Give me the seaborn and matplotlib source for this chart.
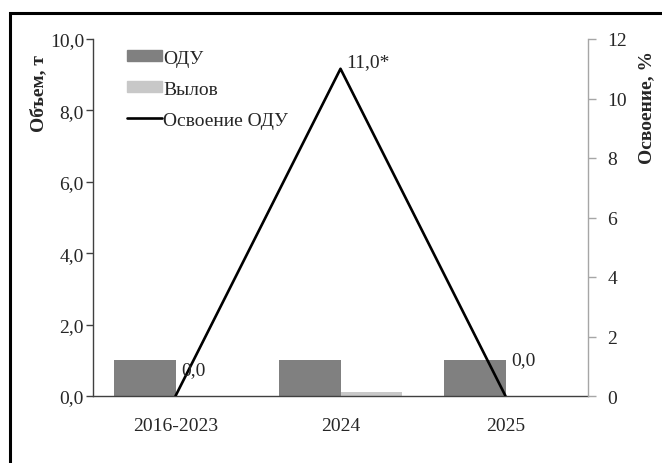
import numpy as np
import pandas as pd
import matplotlib
matplotlib.use('Agg')
import matplotlib.pyplot as plt
import matplotlib.patches as mpatches
from matplotlib.lines import Line2D
from matplotlib.ticker import FuncFormatter, FixedLocator
import seaborn as sns

# data
periods = ['2016-2023', '2024', '2025']
odu = [1.0, 1.0, 1.0]          # ОДУ, т
catch = [0.0, 0.11, 0.0]       # Вылов, т
osv = [0.0, 11.0, 0.0]         # Освоение ОДУ, %
osv_labels = ['0,0', '11,0*', '0,0']

sns.set_style('white')
plt.rcParams['font.family'] = ['Liberation Serif', 'DejaVu Serif']
plt.rcParams['font.size'] = 14

df = pd.DataFrame({
    'period': periods * 2,
    'value': odu + catch,
    'series': ['ОДУ'] * 3 + ['Вылов'] * 3,
})

fig = plt.figure(figsize=(6.62, 4.64), dpi=100)
ax = fig.add_axes([93 / 662, 1 - 397 / 464, 495 / 662, 357 / 464])

sns.barplot(data=df, x='period', y='value', hue='series',
            palette={'ОДУ': '#808080', 'Вылов': '#c8c8c8'},
            width=0.75, saturation=1, linewidth=0, legend=False, ax=ax)

ax.set_xlim(-0.5, 2.5)
ax.set_ylim(0, 10)
ax.set_yticks(np.arange(0, 10.1, 2))
ax.yaxis.set_major_formatter(FuncFormatter(lambda v, p: f'{v:.1f}'.replace('.', ',')))
ax.set_xlabel('')
ax.set_ylabel('Объем, т', fontweight='bold', fontsize=14)
ax.yaxis.set_label_coords(-0.093, 0.85)

ax.tick_params(axis='x', which='major', length=0, pad=15, labelsize=14)
ax.xaxis.set_minor_locator(FixedLocator([-0.5, 0.5, 1.5, 2.5]))
ax.tick_params(axis='x', which='minor', direction='out', length=6, width=1, color='#404040')
ax.tick_params(axis='y', direction='out', length=5, width=1, color='#404040', pad=1.5, labelsize=14, left=True)

for s in ['top', 'right']:
    ax.spines[s].set_visible(False)
ax.spines['left'].set_color('#404040')
ax.spines['bottom'].set_color('#404040')
ax.spines['left'].set_linewidth(1)
ax.spines['bottom'].set_linewidth(1)

ax2 = ax.twinx()
xpos = np.arange(len(periods))
sns.lineplot(x=xpos, y=osv, color='black', linewidth=1.9, ax=ax2)
ax2.set_ylim(0, 12)
ax2.set_xlim(-0.5, 2.5)
ax2.set_yticks(np.arange(0, 13, 2))
ax2.set_ylabel('Освоение, %', fontweight='bold', fontsize=14)
ax2.yaxis.set_label_coords(1.101, 0.81)
ax2.tick_params(axis='y', direction='out', length=6, width=1, color='#a6a6a6', pad=8, labelsize=14, right=True)
for s in ['top', 'left', 'bottom']:
    ax2.spines[s].set_visible(False)
ax2.spines['right'].set_color('#a6a6a6')
ax2.spines['right'].set_linewidth(1)

offsets = [(4, 19), (4, 5), (4, 26)]
for x, y, lab, off in zip(xpos, osv, osv_labels, offsets):
    ax2.annotate(lab, (x, y), xytext=off, textcoords='offset points',
                 ha='left', va='center', fontsize=14)

handles = [mpatches.Patch(color='#808080', label='ОДУ'),
           mpatches.Patch(color='#c8c8c8', label='Вылов'),
           Line2D([0], [0], color='black', linewidth=1.9, label='Освоение ОДУ')]
ax2.legend(handles=handles, loc='upper left', bbox_to_anchor=(0.069, 0.97),
           frameon=False, borderpad=0, borderaxespad=0, handlelength=1.8,
           handleheight=0.5, handletextpad=0.05, labelspacing=0.72, fontsize=14)

# outer frame
fig.patches.append(mpatches.Rectangle((10 / 662, -0.2), 1.2, 1.2 - 14 / 464,
                                      transform=fig.transFigure, fill=False,
                                      edgecolor='black', linewidth=2.2))

fig.savefig('out.png', dpi=100)
